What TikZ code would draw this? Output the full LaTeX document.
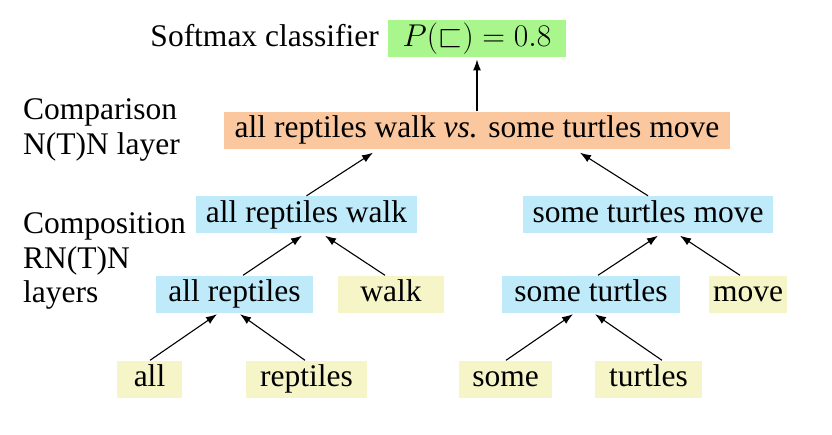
\RequirePackage{fix-cm}
\documentclass[tikz,border=0pt]{standalone}
\usepackage{amssymb}
\usepackage{fontspec}
\setmainfont{Liberation Serif}
\usetikzlibrary{arrows.meta}
\definecolor{boxgreen}{RGB}{168,246,140}
\definecolor{boxorange}{RGB}{251,199,158}
\definecolor{boxblue}{RGB}{190,234,250}
\definecolor{boxyellow}{RGB}{245,245,200}
\tikzset{
  box/.style={inner xsep=1pt, inner ysep=3pt, text height=23pt, text depth=8pt, align=center},
  gbox/.style={box, fill=boxgreen},
  obox/.style={box, fill=boxorange},
  bbox/.style={box, fill=boxblue},
  ybox/.style={box, fill=boxyellow},
  lab/.style={inner sep=0pt, anchor=base west},
  arr/.style={-{Latex[length=11pt,width=8pt]}, line width=1.1pt},
}
\begin{document}
\begin{tikzpicture}[x=1pt,y=-1pt,font=\fontsize{31.5}{36}\selectfont]
\useasboundingbox (0,0) rectangle (832,434);
% top
\node[gbox, minimum width=178pt] (P) at (477,38.75) {$P(\sqsubset) = 0.8$};
\node[inner sep=0pt, anchor=base east] (soft) at (379,46.25) {Softmax classifier};
\node[obox, minimum width=506pt] (cmp) at (477,130) {all reptiles walk \textit{vs.} some turtles move};
% composition level 2
\node[bbox, minimum width=221pt] (arw) at (306.5,214.5) {all reptiles walk};
\node[bbox, minimum width=250pt] (stm) at (648,214.5) {some turtles move};
% level 1
\node[bbox, minimum width=157pt] (ar) at (234.5,294) {all reptiles};
\node[ybox, minimum width=106pt] (walk) at (391,294) {walk};
\node[bbox, minimum width=178pt] (st) at (591,294) {some turtles};
\node[ybox, minimum width=78pt] (move) at (748,294) {move};
% leaves
\node[ybox, minimum width=65pt] (all) at (149.5,379) {all};
\node[ybox, minimum width=121pt] (rep) at (306.5,379) {reptiles};
\node[ybox, minimum width=93pt] (some) at (505.5,379) {some};
\node[ybox, minimum width=107pt] (turt) at (648.5,379) {turtles};
% left labels
\node[lab] (l1) at (23,119) {Comparison};
\node[lab] (l2) at (23,154) {N(T)N layer};
\node[lab] (l3) at (23,233) {Composition};
\node[lab] (l4) at (23,268) {RN(T)N};
\node[lab] (l5) at (23,302) {layers};
% arrows
\draw[arr] (cmp.north) -- ([yshift=-2pt]P.south);
\draw[arr] (arw.north) -- ([xshift=-104pt,yshift=-4pt]cmp.south);
\draw[arr] (stm.north) -- ([xshift=103pt,yshift=-4pt]cmp.south);
\draw[arr] ([xshift=8.5pt]ar.north) -- ([xshift=-4.5pt,yshift=-2.5pt]arw.south);
\draw[arr] ([xshift=-6pt]walk.north) -- ([xshift=18.5pt,yshift=-2.5pt]arw.south);
\draw[arr] ([xshift=7pt]st.north) -- ([xshift=10pt,yshift=-2.5pt]stm.south);
\draw[arr] ([xshift=-8pt]move.north) -- ([xshift=32pt,yshift=-2.5pt]stm.south);
\draw[arr] ([xshift=0.5pt]all.north) -- ([xshift=-17.5pt,yshift=-1.5pt]ar.south);
\draw[arr] ([xshift=-1.5pt]rep.north) -- ([xshift=5.5pt,yshift=-1.5pt]ar.south);
\draw[arr] ([xshift=0.5pt]some.north) -- ([xshift=-18pt,yshift=-1.5pt]st.south);
\draw[arr] ([xshift=13.5pt]turt.north) -- ([xshift=4pt,yshift=-1.5pt]st.south);
\end{tikzpicture}
\end{document}
